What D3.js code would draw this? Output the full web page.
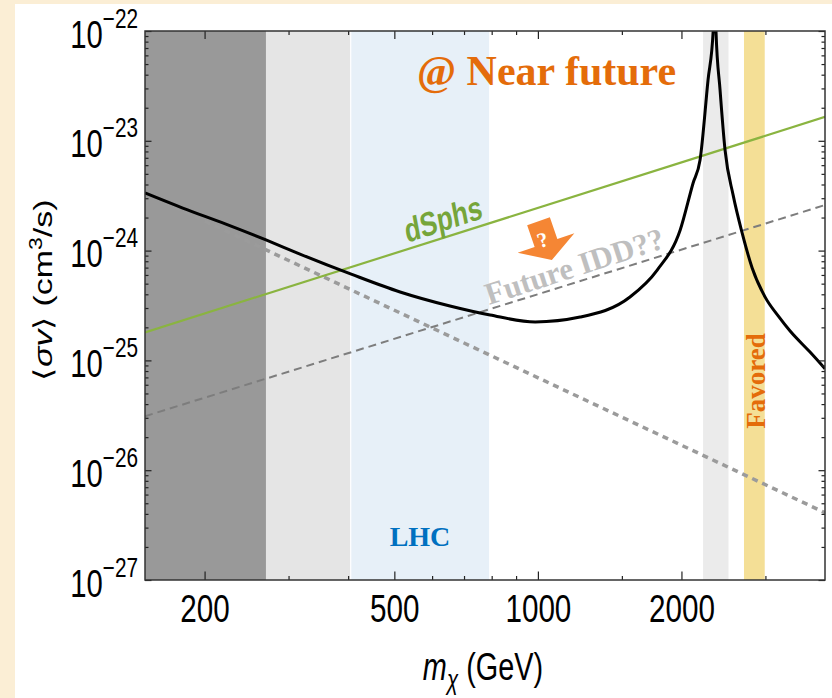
<!DOCTYPE html>
<html>
<head>
<meta charset="utf-8">
<script src="https://cdn.jsdelivr.net/npm/d3@7"></script>
<style>
  body { margin: 0; padding: 0; background: #fbeed5; }
  svg { display: block; }
</style>
</head>
<body>
<div id="chart"></div>
<script>
// values
var theoryMass = [150, 180, 221, 269, 317, 406, 514, 654, 794, 987, 1226, 1560, 1779, 1988, 2116, 2188, 2274, 2331, 2348, 2363, 2410, 2469, 2567, 2681, 2814, 2996, 3191, 3380, 3721, 4000]
var theorySigma = [3.35e-24, 2.44e-24, 1.75e-24, 1.25e-24, 9.3e-25, 6.1e-25, 4.2e-25, 3.13e-25, 2.59e-25, 2.24e-25, 2.48e-25, 3.78e-25, 6.65e-25, 1.54e-24, 4.13e-24, 6.7e-24, 3.58e-23, 1.0e-22, 1.0e-21, 1.0e-22, 2.9e-23, 8.2e-24, 3.2e-24, 1.45e-24, 6.95e-25, 3.77e-25, 2.54e-25, 1.85e-25, 1.19e-25, 8.4e-26]
var lineMass = [150, 4000]
var dsphsSigma = [1.8e-25, 1.65e-23]
var futureSigma = [3.1e-26, 2.6e-24]
var falloffSigma = [3.35e-24, 4.1e-27]
// shaded mass ranges (GeV)
var bandLo = [150, 269, 405, 2220, 2705]
var bandHi = [269, 405, 790, 2510, 2990]
var xMajor = [200, 500, 1000, 2000]
var xMinor = [300, 400, 600, 700, 800, 900, 1500, 3000]
var yMajor = [1e-27, 1e-26, 1e-25, 1e-24, 1e-23, 1e-22]

var W = 832, H = 698
var pL = 145, pR = 825, pT = 31, pB = 580
var bandColors = ["#999999", "#e5e5e5", "#e7f0f8", "#ebebeb", "#f4df96"]

var yMinor = []
yMajor.slice(0, -1).forEach(function(p){
    for (var k = 2; k <= 9; k++) yMinor.push(p * k)
})

var svg = d3.select("#chart").append("svg")
    .attr("width", W)
    .attr("height", H)

// parchment backdrop and white panel
svg.append("rect").attr("width", W).attr("height", H).attr("fill", "#fbeed5")
svg.append("rect").attr("x", 15).attr("y", 4).attr("width", W - 15).attr("height", H - 4).attr("fill", "#ffffff")

var x = d3.scaleLog().domain([150, 4000]).range([pL, pR])
var y = d3.scaleLog().domain([1e-27, 1e-22]).range([pB, pT])

svg.append("clipPath").attr("id", "plotClip")
    .append("rect").attr("x", pL).attr("y", pT).attr("width", pR - pL).attr("height", pB - pT)

var plot = svg.append("g").attr("clip-path", "url(#plotClip)")

plot.selectAll("rect.band")
    .data(bandLo)
    .enter().append("rect")
    .attr("class", "band")
    .attr("x", function(d){ return x(d) })
    .attr("y", pT)
    .attr("width", function(d, i){ return x(bandHi[i]) - x(d) })
    .attr("height", pB - pT)
    .attr("fill", function(d, i){ return bandColors[i] })
// thin white seam between the grey and LHC band
plot.append("line")
    .attr("x1", x(bandLo[2])).attr("x2", x(bandLo[2]))
    .attr("y1", pT).attr("y2", pB)
    .attr("stroke", "#ffffff").attr("stroke-width", 1.2)

var line = d3.line()
    .x(function(d){ return x(d[0]) })
    .y(function(d){ return y(d[1]) })

function pairs(ms, ss){ return ms.map(function(m, i){ return [m, ss[i]] }) }

plot.append("path")
    .datum(pairs(lineMass, falloffSigma))
    .attr("d", line)
    .attr("fill", "none")
    .attr("stroke", "#9b9b9b")
    .attr("stroke-width", 3.5)
    .attr("stroke-dasharray", "6,5")

plot.append("path")
    .datum(pairs(lineMass, futureSigma))
    .attr("d", line)
    .attr("fill", "none")
    .attr("stroke", "#7d7d7d")
    .attr("stroke-width", 2)
    .attr("stroke-dasharray", "8,5")

plot.append("path")
    .datum(pairs(lineMass, dsphsSigma))
    .attr("d", line)
    .attr("fill", "none")
    .attr("stroke", "#8ab440")
    .attr("stroke-width", 2.2)

plot.append("path")
    .datum(pairs(theoryMass, theorySigma))
    .attr("d", line.curve(d3.curveMonotoneX))
    .attr("fill", "none")
    .attr("stroke", "#000000")
    .attr("stroke-width", 3)

// frame ticks (inward, Mathematica style)
function styleAxis(g){
    g.select(".domain").remove()
    g.selectAll(".tick line").attr("stroke", "#222").attr("stroke-width", 1.2)
}
svg.append("g").attr("transform", "translate(0," + pB + ")")
    .call(d3.axisBottom(x).tickValues(xMinor).tickSizeInner(-4).tickSizeOuter(0).tickFormat(""))
    .call(styleAxis)
svg.append("g").attr("transform", "translate(0," + pT + ")")
    .call(d3.axisTop(x).tickValues(xMinor).tickSizeInner(-4).tickSizeOuter(0).tickFormat(""))
    .call(styleAxis)
svg.append("g").attr("transform", "translate(0," + pT + ")")
    .call(d3.axisTop(x).tickValues(xMajor).tickSizeInner(-8).tickSizeOuter(0).tickFormat(""))
    .call(styleAxis)
svg.append("g").attr("transform", "translate(" + pL + ",0)")
    .call(d3.axisLeft(y).tickValues(yMinor).tickSizeInner(-3.5).tickSizeOuter(0).tickFormat(""))
    .call(styleAxis)
svg.append("g").attr("transform", "translate(" + pR + ",0)")
    .call(d3.axisRight(y).tickValues(yMinor).tickSizeInner(-3.5).tickSizeOuter(0).tickFormat(""))
    .call(styleAxis)
svg.append("g").attr("transform", "translate(" + pR + ",0)")
    .call(d3.axisRight(y).tickValues(yMajor).tickSizeInner(-6.5).tickSizeOuter(0).tickFormat(""))
    .call(styleAxis)

var gx = svg.append("g").attr("transform", "translate(0," + pB + ")")
    .call(d3.axisBottom(x).tickValues(xMajor).tickSizeInner(-8.5).tickSizeOuter(0).tickFormat(d3.format("d")))
    .call(styleAxis)
gx.attr("font-size", 38).attr("font-family", "'Liberation Sans', Arial, sans-serif")
gx.selectAll(".tick text")
    .attr("fill", "#000")
    .attr("y", 42).attr("dy", null)
    .attr("transform", "scale(0.78,1)")

var gy = svg.append("g").attr("transform", "translate(" + pL + ",0)")
    .call(d3.axisLeft(y).tickValues(yMajor).tickSizeInner(-6.5).tickSizeOuter(0).tickFormat(""))
    .call(styleAxis)
gy.attr("font-size", 38).attr("font-family", "'Liberation Sans', Arial, sans-serif")
gy.selectAll(".tick text").each(function(d){
    var t = d3.select(this)
    t.text(null)
        .attr("fill", "#000")
        .attr("x", 0).attr("dy", null).attr("y", 16)
        .attr("transform", "translate(-7,0) scale(0.77,1)")
    t.append("tspan").text("10")
    t.append("tspan").attr("font-size", 27).attr("dy", -20).text("\u2212" + (-Math.round(Math.log10(d))))
})

// frame
svg.append("rect")
    .attr("x", pL).attr("y", pT)
    .attr("width", pR - pL).attr("height", pB - pT)
    .attr("fill", "none").attr("stroke", "#333").attr("stroke-width", 1.5)

// axis titles
var xt = svg.append("text")
    .attr("transform", "translate(483,680) scale(0.76,1)")
    .attr("text-anchor", "middle")
    .attr("font-family", "'Liberation Sans', Arial, sans-serif")
    .attr("font-size", 38)
xt.append("tspan").attr("font-style", "italic").text("m")
xt.append("tspan").attr("font-style", "italic").attr("font-size", 27).attr("dy", 9).text("\u03c7")
xt.append("tspan").attr("dy", -9).text(" (GeV)")

var yt = svg.append("text")
    .attr("transform", "translate(52,290) scale(0.76,1) rotate(-90)")
    .attr("text-anchor", "middle")
    .attr("font-family", "'Liberation Sans', Arial, sans-serif")
    .attr("font-size", 34)
yt.append("tspan").text("\u27e8")
yt.append("tspan").attr("font-style", "italic").text("\u03c3v")
yt.append("tspan").text("\u27e9 (cm")
yt.append("tspan").attr("font-size", 23).attr("dy", -13).text("3")
yt.append("tspan").attr("dy", 13).text("/s)")

// annotations
var serif = "'Liberation Serif', 'Times New Roman', serif"
svg.append("text")
    .attr("x", 417).attr("y", 85)
    .attr("font-family", serif).attr("font-weight", "bold").attr("font-size", 42)
    .attr("fill", "#e46c0a")
    .text("@ Near future")

svg.append("text")
    .attr("x", 420).attr("y", 546)
    .attr("text-anchor", "middle")
    .attr("font-family", serif).attr("font-weight", "bold").attr("font-size", 28)
    .attr("fill", "#0070c0")
    .text("LHC")

svg.append("text")
    .attr("transform", "translate(765,381) rotate(-90)")
    .attr("text-anchor", "middle")
    .attr("font-family", serif).attr("font-weight", "bold").attr("font-size", 27)
    .attr("fill", "#e46c0a")
    .text("Favored")

svg.append("text")
    .attr("transform", "translate(407,243) scale(0.76,1) rotate(-14)")
    .attr("font-family", "'Liberation Sans', Arial, sans-serif").attr("font-weight", "bold").attr("font-size", 34)
    .attr("fill", "#76a53a")
    .text("dSphs")

svg.append("text")
    .attr("transform", "translate(489,305) rotate(-18)")
    .attr("font-family", serif).attr("font-weight", "bold").attr("font-size", 31)
    .attr("fill", "#bfbfbf")
    .text("Future IDD??")

var arrow = svg.append("g").attr("transform", "translate(546,243) rotate(-19)")
arrow.append("path")
    .attr("d", "M-12,-23 L12,-23 L12,0 L30,0 L0,18 L-30,0 L-12,0 Z")
    .attr("fill", "#f58634")
arrow.append("text")
    .attr("x", -2).attr("y", 3)
    .attr("text-anchor", "middle")
    .attr("font-family", serif).attr("font-weight", "bold").attr("font-size", 21)
    .attr("fill", "#ffffff")
    .text("?")
</script>
</body>
</html>
